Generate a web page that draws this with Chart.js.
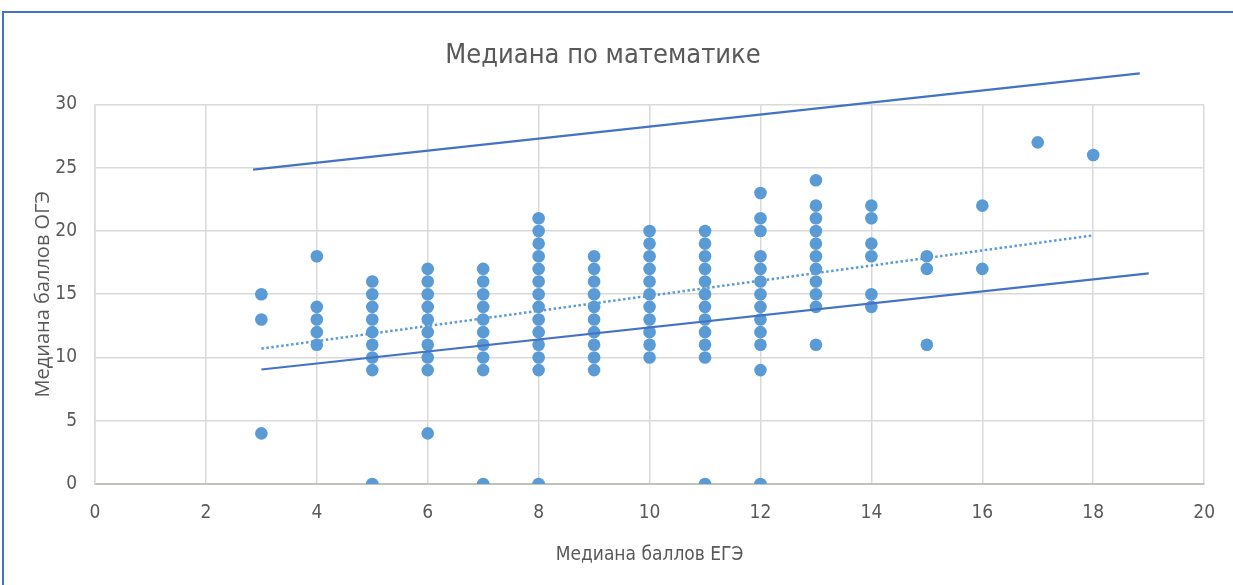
<!DOCTYPE html>
<html>
<head>
<meta charset="utf-8">
<script src="https://cdn.jsdelivr.net/npm/chart.js@4"></script>
<style>
  html, body { margin: 0; padding: 0; background: #fff; overflow: hidden; }
  #wrap { position: relative; width: 1233px; height: 585px; }
  #frame {
    position: absolute; left: 2px; top: 11px; width: 1260px; height: 600px;
    border-top: 2.5px solid #4472c4; border-left: 2.5px solid #4472c4;
    box-sizing: border-box; pointer-events: none;
  }
  canvas { position: absolute; left: 0; top: 0; }
</style>
</head>
<body>
<div id="wrap">
  <canvas id="chart" width="1233" height="585"></canvas>
  <div id="frame"></div>
</div>
<script>
// EGE median (x) and the OGE medians seen in each column (y)
const egeColumns = [3, 4, 5, 6, 7, 8, 9, 10, 11, 12, 13, 14, 15, 16, 17, 18];
const ogeColumns = [
  [15, 13, 4],
  [18, 14, 13, 12, 11],
  [16, 15, 14, 13, 12, 11, 10, 9, 0],
  [17, 16, 15, 14, 13, 12, 11, 10, 9, 4],
  [17, 16, 15, 14, 13, 12, 11, 10, 9, 0],
  [21, 20, 19, 18, 17, 16, 15, 14, 13, 12, 11, 10, 9, 0],
  [18, 17, 16, 15, 14, 13, 12, 11, 10, 9],
  [20, 19, 18, 17, 16, 15, 14, 13, 12, 11, 10],
  [20, 19, 18, 17, 16, 15, 14, 13, 12, 11, 10, 0],
  [23, 21, 20, 18, 17, 16, 15, 14, 13, 12, 11, 9, 0],
  [24, 22, 21, 20, 19, 18, 17, 16, 15, 14, 11],
  [22, 21, 19, 18, 15, 14],
  [18, 17, 11],
  [22, 17],
  [27],
  [26]
];

// hand-drawn bound lines and the linear trendline (end points)
const upperX = [2.85, 18.84];
const upperY = [24.85, 32.45];
const lowerX = [3, 19];
const lowerY = [9.05, 16.65];
const trendX = [3, 18];
const trendY = [10.7, 19.65];

const xTicks = [0, 2, 4, 6, 8, 10, 12, 14, 16, 18, 20];
const yTicks = [0, 5, 10, 15, 20, 25, 30];

const points = [];
egeColumns.forEach((x, i) => ogeColumns[i].forEach(y => points.push({ x, y })));
const toXY = (xs, ys) => xs.map((x, i) => ({ x, y: ys[i] }));

const narrow = "'Liberation Sans Narrow', 'DejaVu Sans Condensed', 'Liberation Sans', sans-serif";
const grey = "#595959";

const lineSet = (label, data, color, width, dash) => ({
  type: "line", label, data, borderColor: color, borderWidth: width,
  borderDash: dash, pointRadius: 0, fill: false, clip: false, tension: 0
});

new Chart(document.getElementById("chart"), {
  type: "scatter",
  data: {
    datasets: [
      lineSet("upper", toXY(upperX, upperY), "#4472c4", 2.2, []),
      lineSet("lower", toXY(lowerX, lowerY), "#4472c4", 2.2, []),
      lineSet("trend", toXY(trendX, trendY), "#5b9bd5", 2.5, [2.5, 2.5]),
      {
        label: "Медиана по математике",
        data: points,
        backgroundColor: "#5b9bd5",
        borderColor: "#5b9bd5",
        pointRadius: 6.3,
        borderWidth: 0
      }
    ]
  },
  options: {
    responsive: false,
    animation: false,
    layout: { padding: { left: 0, right: 27, top: 0, bottom: 0 } },
    plugins: {
      legend: { display: false },
      tooltip: { enabled: false },
      title: {
        display: true,
        text: "Медиана по математике",
        color: grey,
        font: { family: narrow, size: 27, weight: "normal" },
        padding: { top: 40, bottom: 32 }
      }
    },
    scales: {
      x: {
        type: "linear",
        min: 0, max: 20,
        afterBuildTicks: s => { s.ticks = xTicks.map(v => ({ value: v })); },
        afterFit: s => { s.height = 101; },
        grid: { color: "#d9d9d9", lineWidth: 1.5, drawTicks: false },
        border: { color: "#bfc4bb", width: 2 },
        ticks: { color: grey, padding: 18, font: { family: narrow, size: 19 } },
        title: {
          display: true, text: "Медиана баллов ЕГЭ", color: grey,
          font: { family: narrow, size: 19 }, padding: { top: 0, bottom: 19 }
        }
      },
      y: {
        type: "linear",
        min: 0, max: 30,
        afterBuildTicks: s => { s.ticks = yTicks.map(v => ({ value: v })); },
        afterFit: s => { s.width = 95; },
        grid: { color: "#d9d9d9", lineWidth: 1.5, drawTicks: false },
        border: { color: "#d9d9d9", width: 1.5 },
        ticks: { color: grey, padding: 18, font: { family: narrow, size: 19 } },
        title: {
          display: true, text: "Медиана баллов ОГЭ", color: grey,
          font: { family: "'Open Sans', 'Liberation Sans', sans-serif", size: 20 },
          padding: { top: 31, bottom: 0 }
        }
      }
    }
  }
});
</script>
</body>
</html>
